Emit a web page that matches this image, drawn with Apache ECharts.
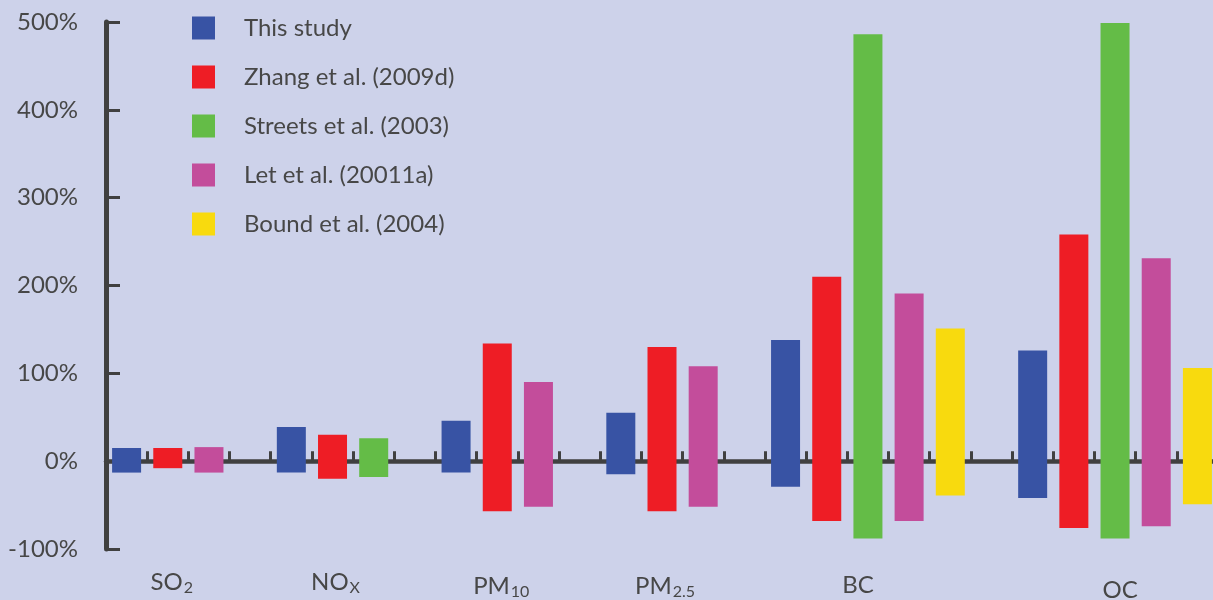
<!DOCTYPE html>
<html><head><meta charset="utf-8">
<script src="https://cdn.jsdelivr.net/npm/echarts@6/dist/echarts.min.js"></script>
<style>html,body{margin:0;padding:0;background:#CDD2EA;} #c{width:1213px;height:600px;}</style>
</head><body><div id="c"></div>
<script>
// ---- data ----
const pollutants = ['SO2', 'NOx', 'PM10', 'PM2.5', 'BC', 'OC'];
const labelMain = ['SO', 'NO', 'PM', 'PM', 'BC', 'OC'];
const labelSub  = ['2', 'X', '10', '2.5', '', ''];
const studies = ['This study', 'Zhang et al. (2009d)', 'Streets et al. (2003)', 'Let et al. (20011a)', 'Bound et al. (2004)'];
const yTicks = [-100, 0, 100, 200, 300, 400, 500];
// uncertainty ranges (%), per pollutant in the order above; null = not reported
const thisStudyHigh = [15, 39, 46, 55, 138, 126];
const thisStudyLow  = [-13, -13, -13, -15, -29, -42];
const zhangHigh     = [15, 30, 134, 130, 210, 258];
const zhangLow      = [-8, -20, -57, -57, -68, -76];
const streetsHigh   = [null, 26, null, null, 486, 499];
const streetsLow    = [null, -18, null, null, -88, -88];
const letHigh       = [16, null, 90, 108, 191, 231];
const letLow        = [-13, null, -52, -52, -68, -74];
const boundHigh     = [null, null, null, null, 151, 106];
const boundLow      = [null, null, null, null, -39, -49];

// ---- styling ----
const colors = ['#3853A4', '#EE1D25', '#64BC47', '#C34D9B', '#F8DA0E'];
const highs = [thisStudyHigh, zhangHigh, streetsHigh, letHigh, boundHigh];
const lows  = [thisStudyLow, zhangLow, streetsLow, letLow, boundLow];
const txt = '#474747';
const font = 'Lato';
// per-pollutant label nudges [down, right] in px (layout only)
const labelNudge = [[0, 4], [0, 3], [4, 4], [4, 3], [4, -10], [9, 5]];

// build slots: one slot per reported study, one empty slot between pollutants
const slots = [];
const midSlot = {};
pollutants.forEach((p, pi) => {
  const start = slots.length;
  studies.forEach((s, si) => { if (highs[si][pi] !== null) slots.push({p: pi, s: si}); });
  midSlot[Math.floor((start + slots.length - 1) / 2)] = pi;
  if (pi < pollutants.length - 1) slots.push(null);
});
const slotKeys = slots.map((d, i) => d ? pollutants[d.p] + ' / ' + studies[d.s] : 'gap' + i);
const labelData = slotKeys.map((k, i) => {
  const pi = midSlot[i];
  if (pi === undefined) return k;
  const [dn, rt] = labelNudge[pi];
  return {value: k, textStyle: {padding: [dn, rt < 0 ? -2 * rt : 0, 0, rt > 0 ? 2 * rt : 0]}};
});

const BAR_W = 29;
const series = studies.map((s, si) => ({
  name: s, type: 'custom', xAxisIndex: 0,
  itemStyle: {color: colors[si]},
  encode: {x: 0, y: [1, 2]},
  data: slots.map((d, i) => (d && d.s === si) ? [i, lows[si][d.p], highs[si][d.p]] : null).filter(Boolean),
  renderItem: (params, api) => {
    const lo = api.coord([api.value(0), api.value(1)]);
    const hi = api.coord([api.value(0), api.value(2)]);
    return {type: 'rect', shape: {x: hi[0] - BAR_W / 2, y: hi[1], width: BAR_W, height: lo[1] - hi[1]},
      style: {fill: colors[si]}};
  },
  z: 5
}));

const chart = echarts.init(document.getElementById('c'), null, {renderer: 'canvas'});
chart.setOption({
  backgroundColor: '#CDD2EA',
  animation: false,
  textStyle: {fontFamily: font},
  grid: {left: 106, right: -5, top: 22, bottom: 51, outerBoundsMode: 'none', containLabel: false},
  legend: {
    data: studies, orient: 'vertical', left: 192, top: 16, padding: 0,
    itemWidth: 23, itemHeight: 23, itemGap: 25, icon: 'rect',
    textStyle: {fontFamily: font, fontSize: 24, lineHeight: 23, color: txt, padding: [0, 0, 0, 24]},
    selectedMode: false
  },
  xAxis: [{
    type: 'category', data: slotKeys, position: 'top', boundaryGap: true, z: 0,
    axisLine: {onZero: true, lineStyle: {color: '#404040', width: 4.5}},
    axisTick: {show: true, inside: false, interval: 0, length: 10, lineStyle: {color: '#404040', width: 3}},
    axisLabel: {show: false}, splitLine: {show: false}
  }, {
    type: 'category', data: labelData, position: 'bottom', boundaryGap: true,
    axisLine: {show: false, onZero: false}, axisTick: {show: false}, splitLine: {show: false},
    axisLabel: {
      interval: 0, margin: 20, color: txt,
      formatter: (v, i) => {
        const pi = midSlot[i];
        if (pi === undefined) return '';
        return '{m|' + labelMain[pi] + '}' + (labelSub[pi] ? '{s|' + labelSub[pi] + '}' : '');
      },
      rich: {
        m: {fontFamily: font, fontSize: 24, color: txt, verticalAlign: 'middle'},
        s: {fontFamily: font, fontSize: 16, color: txt, verticalAlign: 'middle', padding: [11, 0, 0, 1]}
      }
    }
  }],
  yAxis: {
    type: 'value', min: -100, max: 500, interval: 100,
    axisLine: {show: true, onZero: false, lineStyle: {color: '#404040', width: 5}},
    axisTick: {show: true, inside: true, length: 14, lineStyle: {color: '#404040', width: 3}},
    axisLabel: {margin: 28, fontSize: 24, color: txt, fontFamily: font,
      formatter: v => yTicks.includes(v) ? v + '%' : ''},
    splitLine: {show: false}
  },
  series: series
});
</script>
</body></html>
